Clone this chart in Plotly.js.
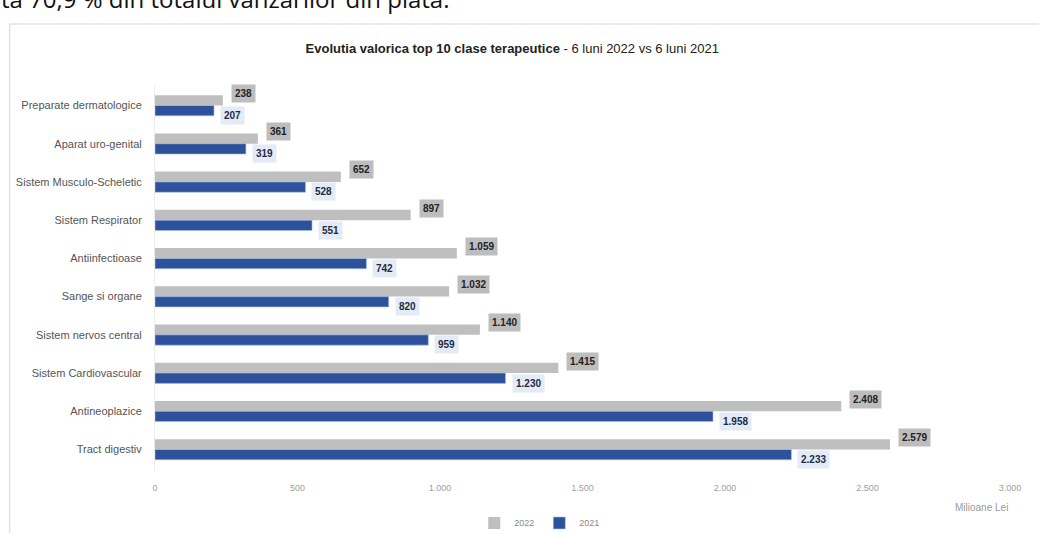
<!DOCTYPE html>
<html>
<head>
<meta charset="utf-8">
<script src="https://cdn.plot.ly/plotly-3.0.1.min.js"></script>
<style>html,body{margin:0;padding:0;background:#fff;overflow:hidden}#chart{width:1039px;height:533px}</style>
</head>
<body>
<div id="chart"></div>
<script>
var categories = ["Preparate dermatologice","Aparat uro-genital","Sistem Musculo-Scheletic","Sistem Respirator","Antiinfectioase","Sange si organe","Sistem nervos central","Sistem Cardiovascular","Antineoplazice","Tract digestiv"];
var values2022 = [238, 361, 652, 897, 1059, 1032, 1140, 1415, 2408, 2579];
var values2021 = [207, 319, 528, 551, 742, 820, 959, 1230, 1958, 2233];
var xTicks = [0, 500, 1000, 1500, 2000, 2500, 3000];
var FONT = "'Liberation Sans', Arial, sans-serif";

function fmt(v){ return String(v).replace(/\B(?=(\d{3})+(?!\d))/g, "."); }

var traces = [
  {type:"bar", orientation:"h", name:"2022", y:categories, x:values2022,
   marker:{color:"#bfbfbf"}, hoverinfo:"skip"},
  {type:"bar", orientation:"h", name:"2021", y:categories, x:values2021,
   marker:{color:"#2e519c", line:{color:"#a9c1e6", width:0.6}}, hoverinfo:"skip"}
];

var annotations = [];
categories.forEach(function(c,i){
  annotations.push({x:values2022[i], y:c, xref:"x", yref:"y", text:"<b>"+fmt(values2022[i])+"</b>",
    showarrow:false, xanchor:"left", yanchor:"middle", xshift:8, yshift:12,
    bgcolor:"#bdbdbd", borderpad:3, font:{family:FONT, size:10, color:"#222"}});
  annotations.push({x:values2021[i], y:c, xref:"x", yref:"y", text:"<b>"+fmt(values2021[i])+"</b>",
    showarrow:false, xanchor:"left", yanchor:"middle", xshift:6, yshift:-10,
    bgcolor:"#e3ebf6", borderpad:3, font:{family:FONT, size:10, color:"#1f2a44"}});
});
annotations.push({xref:"paper", yref:"paper", x:1.0, y:-0.095, xanchor:"right", yanchor:"middle",
  text:"Milioane Lei", showarrow:false, font:{family:FONT, size:10, color:"#9a9a9a"}});
annotations.push({xref:"paper", yref:"paper", x:-0.183, y:1.18, xanchor:"left", yanchor:"bottom",
  text:"ta 70,9 % din totalul vanzarilor din piata.", showarrow:false,
  font:{family:"'Open Sans', sans-serif", size:24, color:"#111"}});

var layout = {
  width:1039, height:533,
  margin:{l:155, r:29, t:86, b:62, autoexpand:false},
  paper_bgcolor:"#ffffff", plot_bgcolor:"#ffffff",
  separators:",.",
  barmode:"group", bargap:0.46, bargroupgap:0,
  showlegend:true,
  legend:{orientation:"h", x:0.45, xanchor:"center", y:-0.135, yanchor:"middle",
    font:{family:FONT, size:9, color:"#8a8a8a"}, itemwidth:30, traceorder:"normal"},
  title:{text:"<b>Evolutia valorica top 10 clase terapeutice</b> - 6 luni 2022 vs 6 luni 2021",
    x:0.493, xanchor:"center", y:0.91, yanchor:"middle", xref:"container", yref:"container",
    font:{family:FONT, size:13, color:"#222"}},
  xaxis:{range:[0,3000], tickvals:xTicks, ticktext:xTicks.map(fmt), showgrid:false, zeroline:false,
    showline:false, ticks:"", ticklabelstandoff:10, automargin:false,
    tickfont:{family:FONT, size:9, color:"#a0a0a0"}, fixedrange:true},
  yaxis:{type:"category", autorange:"reversed", showgrid:false, zeroline:false, showline:true,
    linecolor:"#ececec", linewidth:1, ticks:"", ticklabelstandoff:10, automargin:false,
    tickfont:{family:FONT, size:11, color:"#555"}, fixedrange:true},
  annotations:annotations,
  shapes:[{type:"rect", xref:"paper", yref:"paper", x0:-0.17, x1:1.2, y0:-0.3, y1:1.161,
    line:{color:"#e2e2e2", width:1.5}, fillcolor:"rgba(0,0,0,0)", layer:"below"}]
};

Plotly.newPlot("chart", traces, layout, {displayModeBar:false, staticPlot:true});
</script>
</body>
</html>
